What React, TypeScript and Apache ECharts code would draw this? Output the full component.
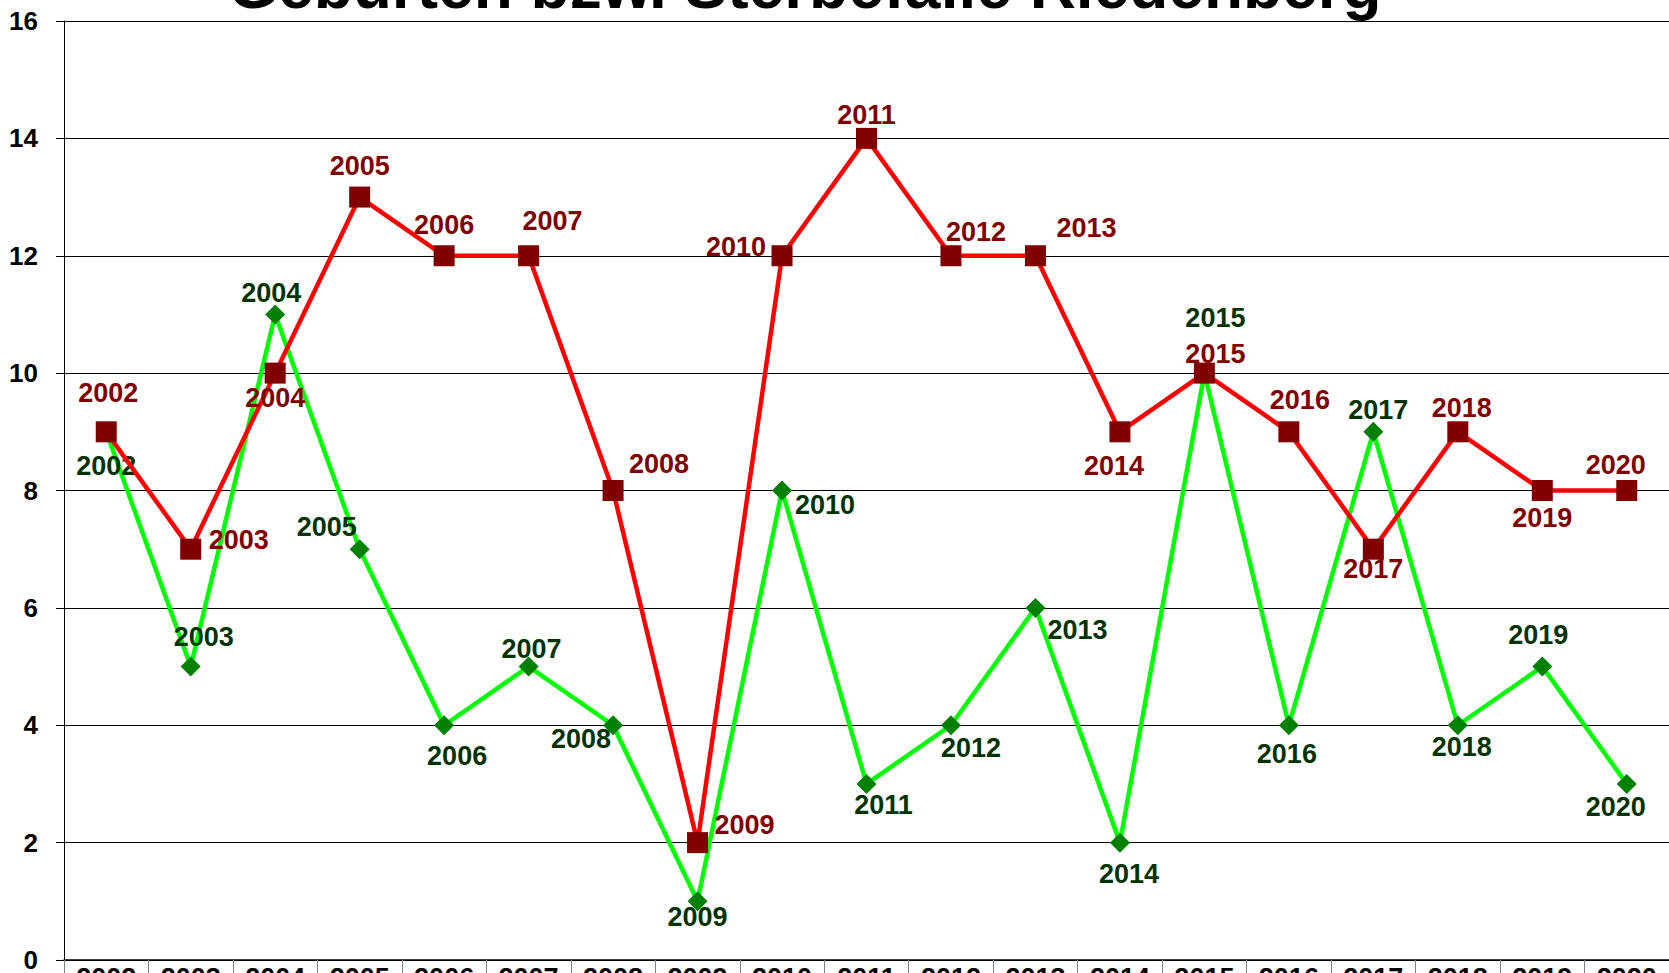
import React, { useEffect, useRef } from "react";
import * as echarts from "echarts";

const titleText = "Geburten bzw. Sterbefälle Riedenberg";
const years = ["2002","2003","2004","2005","2006","2007","2008","2009","2010","2011","2012","2013","2014","2015","2016","2017","2018","2019","2020"];
const birthValues = [9, 5, 11, 7, 4, 5, 4, 1, 8, 3, 4, 6, 2, 10, 4, 9, 4, 5, 3];
const deathValues = [9, 7, 10, 13, 12, 12, 8, 2, 12, 14, 12, 12, 9, 10, 9, 7, 9, 8, 8];
const yTicks = { min: 0, max: 16, interval: 2 };

// label placement (pixel offsets of each data label from its point)
const deathLabelOffsets = [[2,-39],[48,-9],[0,25],[0,-31],[0,-31],[24,-35],[46,-27],[47,-18],[-46,-9],[0,-23],[25,-24],[51,-28],[-6,34],[11,-19],[11,-32],[0,20],[4,-24],[0,27],[-11,-26]];
const birthLabelOffsets = [[0,34],[13,-30],[-4,-21],[-33,-22],[13,31],[3,-18],[-32,14],[0,16],[43,14],[17,21],[20,23],[42,22],[9,31],[11,-55],[-2,29],[5,-22],[4,22],[-4,-32],[-11,23]];

const FONT = '"Liberation Sans", Arial, sans-serif';

export default function App() {
  const ref = useRef<HTMLDivElement>(null);
  useEffect(() => {
    if (!ref.current) return;
    const chart = echarts.init(ref.current, null, { renderer: "svg" });
    const mkData = (vals: number[], offs: number[][], color: string) =>
      vals.map((v, i) => ({
        value: v,
        label: {
          show: true,
          position: "inside",
          offset: offs[i],
          formatter: "{b}",
          color,
          fontSize: 27,
          fontWeight: "bold",
          fontFamily: FONT,
        },
      }));
    chart.setOption({
      animation: false,
      backgroundColor: "#ffffff",
      grid: { left: 64, right: 0, top: 21, bottom: 13, containLabel: false, outerBoundsMode: "none" },
      graphic: [
        {
          type: "text",
          x: 805,
          y: 18,
          style: {
            text: titleText,
            fontSize: 64,
            fontWeight: "bold",
            fontFamily: FONT,
            fill: "#000",
            align: "center",
            verticalAlign: "bottom",
          },
        },
      ],
      xAxis: {
        type: "category",
        data: years,
        boundaryGap: true,
        axisLine: { show: true, lineStyle: { color: "#000", width: 1.5 } },
        axisTick: { show: true, interval: 0, length: 30, lineStyle: { color: "#808080", width: 1 } },
        axisLabel: { interval: 0, margin: 4, color: "#000", fontSize: 27, fontWeight: "bold", fontFamily: FONT },
        splitLine: { show: false },
      },
      yAxis: {
        type: "value",
        min: yTicks.min,
        max: yTicks.max,
        interval: yTicks.interval,
        axisLine: { show: true, lineStyle: { color: "#000", width: 1 } },
        axisTick: { show: true, length: 8, lineStyle: { color: "#000" } },
        axisLabel: { margin: 26, color: "#000", fontSize: 26, fontWeight: "bold", fontFamily: FONT },
        splitLine: { show: true, lineStyle: { color: "#000", width: 1 } },
      },
      series: [
        {
          name: "Geburten",
          type: "line",
          data: mkData(birthValues, birthLabelOffsets, "#003300"),
          symbol: "diamond",
          symbolSize: 20,
          showAllSymbol: true,
          lineStyle: { color: "#00ff00", width: 4.5 },
          itemStyle: { color: "#008000", borderWidth: 0 },
          z: 2,
        },
        {
          name: "Sterbefälle",
          type: "line",
          data: mkData(deathValues, deathLabelOffsets, "#800000"),
          symbol: "rect",
          symbolSize: 21,
          showAllSymbol: true,
          lineStyle: { color: "#ff0000", width: 4.5 },
          itemStyle: { color: "#800000", borderWidth: 0 },
          z: 3,
        },
      ],
    });
    return () => chart.dispose();
  }, []);
  return (
    <div
      ref={ref}
      style={{ position: "fixed", left: 0, top: 0, width: 1669, height: 973, background: "#fff" }}
    />
  );
}
